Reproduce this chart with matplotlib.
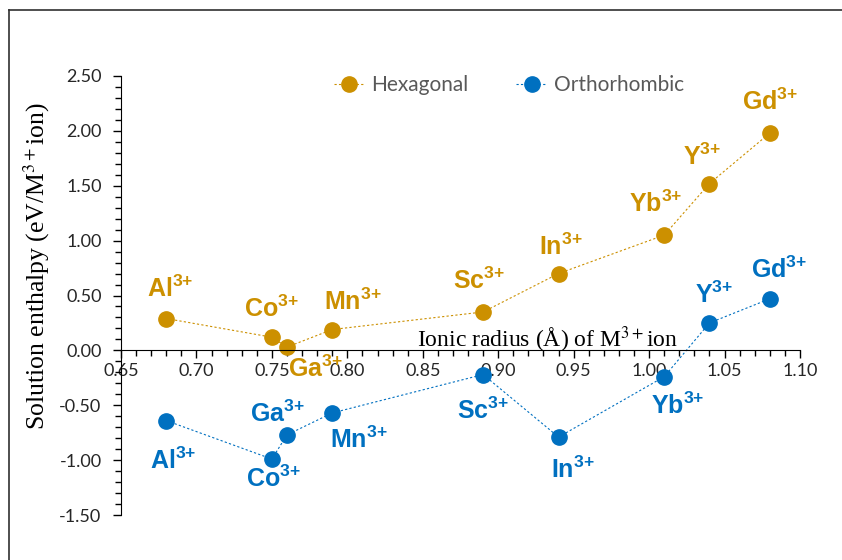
import matplotlib.pyplot as plt
from matplotlib.lines import Line2D
from matplotlib.ticker import MultipleLocator, FormatStrFormatter

plt.rcParams['mathtext.fontset'] = 'custom'
plt.rcParams['mathtext.rm'] = 'Liberation Sans:bold'
plt.rcParams['mathtext.bf'] = 'Liberation Sans:bold'

# ion names and radii (Å)
ions = ['Al', 'Co', 'Ga', 'Mn', 'Sc', 'In', 'Yb', 'Y', 'Gd']
radius = [0.68, 0.75, 0.76, 0.79, 0.89, 0.94, 1.01, 1.04, 1.08]

# solution enthalpies (eV/M3+ ion)
hexagonal = [0.29, 0.12, 0.03, 0.19, 0.35, 0.70, 1.05, 1.52, 1.98]
orthorhombic = [-0.64, -0.99, -0.77, -0.57, -0.22, -0.79, -0.24, 0.25, 0.47]

# label offsets (px) from each point
hex_off = [(4, 30), (0, 28), (28, -22), (21, 28), (-4, 31), (2, 27), (-8, 31), (-7, 27), (0, 31)]
ort_off = [(7, -40), (2, -20), (-10, 21), (27, -27), (0, -36), (14, -33), (14, -29), (5, 28), (9, 29)]

gold = '#CC9000'
blue = '#0070C0'

fig = plt.figure(figsize=(8.42, 5.6), dpi=100)
ax = fig.add_axes([121/842, 1-515/560, (800-121)/842, (515-76)/560])

ax.plot(radius, hexagonal, color=gold, marker='o', ms=11, lw=0.8,
        linestyle=(0, (2, 2)), label='Hexagonal')
ax.plot(radius, orthorhombic, color=blue, marker='o', ms=11, lw=0.8,
        linestyle=(0, (2, 2)), label='Orthorhombic')

sup = r'$^{\mathbf{3{+}}}$'
for i in range(len(ions)):
    ax.annotate(ions[i] + sup, (radius[i], hexagonal[i]),
                xytext=(hex_off[i][0]*0.72, hex_off[i][1]*0.72), textcoords='offset points',
                ha='center', va='center', color=gold, fontsize=18,
                fontweight='bold', family='Liberation Sans')
    ax.annotate(ions[i] + sup, (radius[i], orthorhombic[i]),
                xytext=(ort_off[i][0]*0.72, ort_off[i][1]*0.72), textcoords='offset points',
                ha='center', va='center', color=blue, fontsize=18,
                fontweight='bold', family='Liberation Sans')

ax.set_xlim(0.65, 1.10)
ax.set_ylim(-1.5, 2.5)
ax.spines['top'].set_visible(False)
ax.spines['right'].set_visible(False)
ax.spines['bottom'].set_position(('data', 0))

ax.xaxis.set_major_locator(MultipleLocator(0.05))
ax.xaxis.set_minor_locator(MultipleLocator(0.01))
ax.yaxis.set_major_locator(MultipleLocator(0.5))
ax.yaxis.set_minor_locator(MultipleLocator(0.1))
ax.xaxis.set_major_formatter(FormatStrFormatter('%.2f'))
ax.yaxis.set_major_formatter(FormatStrFormatter('%.2f'))
ax.tick_params(which='major', length=6, width=1, direction='out', labelsize=13,
               labelcolor='#262626', pad=3)
ax.tick_params(which='minor', length=4, width=1, direction='out')
for lab in ax.get_xticklabels() + ax.get_yticklabels():
    lab.set_family('Lato')
ax.tick_params(axis='y', pad=8)

ax.set_ylabel('Solution enthalpy (eV/M$^{3+}$ion)', family='Liberation Serif',
              fontsize=18.5)
ax.yaxis.label.set_math_fontfamily('stix')
ax.yaxis.set_label_coords(-0.102, 0.567)
ax.text(1.019, 0.025, 'Ionic radius (Å) of M$^{3+}$ion', family='Liberation Serif',
        fontsize=17, ha='right', va='baseline', math_fontfamily='stix')

leg = ax.legend(loc='upper center', bbox_to_anchor=(0.571, 1.045), ncol=2, frameon=False,
                prop={'family': 'Lato', 'size': 15}, handlelength=1.5, columnspacing=2.3,
                handletextpad=0.3)
for t in leg.get_texts():
    t.set_color('#595959')

# outer frame (left and top edge only)
fig.add_artist(Line2D([9/842, 9/842], [0, 1-10/560], color='#303030', lw=1.2))
fig.add_artist(Line2D([9/842, 1], [1-10/560, 1-10/560], color='#303030', lw=1.2))

fig.savefig('out.png', dpi=100)
